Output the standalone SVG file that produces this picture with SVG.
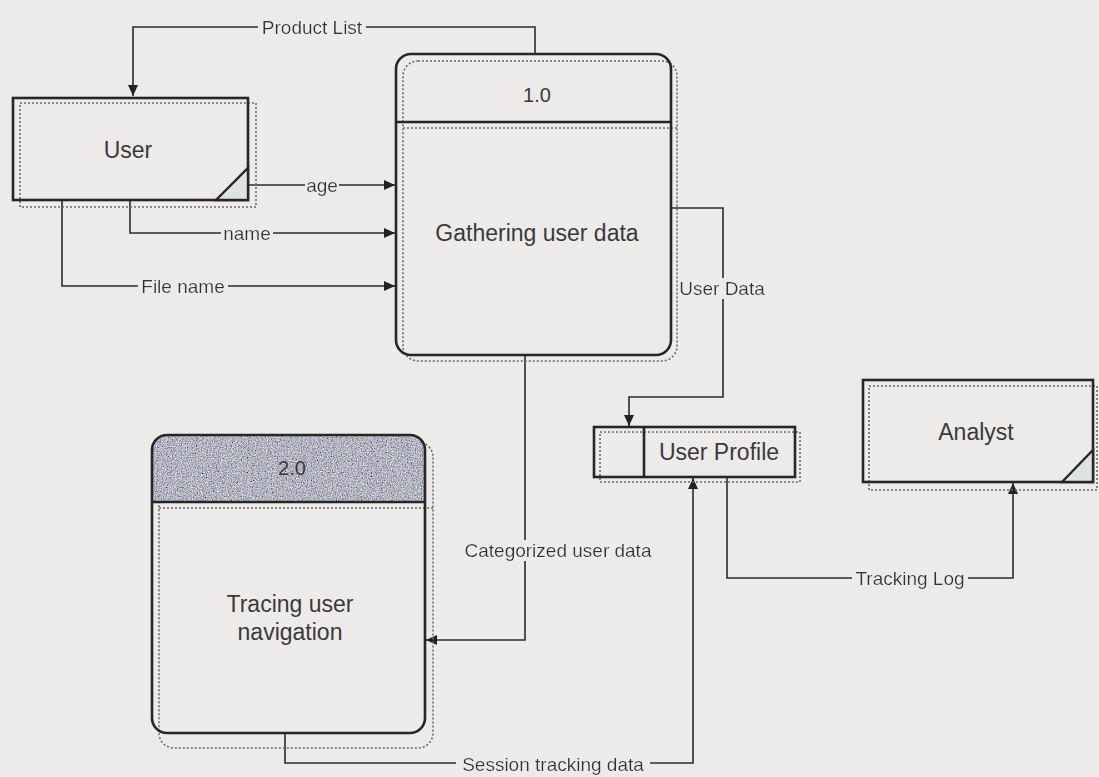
<svg xmlns="http://www.w3.org/2000/svg" width="1099" height="777" viewBox="0 0 1099 777">
<defs>
<style>
.bg{fill:#edebea}
.box{fill:none;stroke:#262626;stroke-width:2.6}
.shadow{fill:none;stroke:#6a6a70;stroke-width:1.6;stroke-dasharray:2 2}
.ln{fill:none;stroke:#2c2c2c;stroke-width:1.6}
.nt{font-family:"Liberation Sans",Arial,sans-serif;font-size:23px;fill:#3a3a3a;text-anchor:middle}
.el{font-family:"Liberation Sans",Arial,sans-serif;font-size:19px;fill:#333;text-anchor:middle;filter:url(#tbg)}
</style>
<filter id="tbg" x="-0.03" y="0" width="1.06" height="1">
<feFlood flood-color="#edebea" result="f"/>
<feComposite in="SourceGraphic" in2="f" operator="over"/>
</filter>
<marker id="arr" markerWidth="12" markerHeight="10" refX="11" refY="5" orient="auto" markerUnits="userSpaceOnUse">
<path d="M0,0 L11,5 L0,10 z" fill="#222"/>
</marker>
<filter id="noise" x="0" y="0" width="100%" height="100%">
<feTurbulence type="fractalNoise" baseFrequency="0.8" numOctaves="2" seed="7" result="t"/>
<feColorMatrix in="t" type="matrix" values="0.9 0.8 0 0 -0.4  0 1.3 0.3 0 -0.34  0.5 0.7 0.7 0 -0.43  0 0 0 0 1" result="c"/>
<feComposite in="c" in2="SourceGraphic" operator="in"/>
</filter>
</defs>
<rect class="bg" x="0" y="0" width="1099" height="777"/>

<g id="connectors">
<path class="ln" d="M535,55 V27 H133 V96" marker-end="url(#arr)"/>
<text class="el" x="312" y="34">Product List</text>
<path class="ln" d="M248,185 H395" marker-end="url(#arr)"/>
<text class="el" x="322" y="192">age</text>
<path class="ln" d="M130,200 V233 H395" marker-end="url(#arr)"/>
<text class="el" x="247" y="240">name</text>
<path class="ln" d="M62,200 V286 H395" marker-end="url(#arr)"/>
<text class="el" x="183" y="293">File name</text>
<path class="ln" d="M671,208 H723 V397 H629 V426" marker-end="url(#arr)"/>
<text class="el" x="722" y="295">User Data</text>
<path class="ln" d="M525,355 V640 H426" marker-end="url(#arr)"/>
<text class="el" x="558" y="557">Categorized user data</text>
<path class="ln" d="M285,733 V763 H693 V478" marker-end="url(#arr)"/>
<text class="el" x="553" y="771">Session tracking data</text>
<path class="ln" d="M727,477 V578 H1013 V483" marker-end="url(#arr)"/>
<text class="el" x="910" y="585">Tracking Log</text>
</g>

<g id="user">
<rect class="shadow" x="20" y="103" width="236" height="104"/>
<rect class="box" x="13" y="98" width="235" height="102"/>
<path d="M216,200 L248,168 V200 Z" fill="#dfe3df" stroke="#262626" stroke-width="2.4"/>
<text class="nt" x="128" y="158">User</text>
</g>

<g id="process1">
<rect class="shadow" x="403" y="61" width="274" height="300" rx="15"/>
<line class="shadow" x1="403" y1="128" x2="677" y2="128"/>
<rect class="box" x="396" y="54" width="275" height="301" rx="15"/>
<line class="box" x1="396" y1="122" x2="671" y2="122"/>
<text class="nt" x="537" y="102" style="font-size:20px">1.0</text>
<text class="nt" x="537" y="241">Gathering user data</text>
</g>

<g id="process2">
<rect class="shadow" x="159" y="442" width="274" height="306" rx="15"/>
<path d="M152,502 V450 Q152,435 167,435 H410 Q425,435 425,450 V502 Z" fill="#888" filter="url(#noise)"/>
<line class="shadow" x1="159" y1="508" x2="433" y2="508"/>
<rect class="box" x="152" y="435" width="273" height="298" rx="15"/>
<line class="box" x1="152" y1="502" x2="425" y2="502"/>
<text class="nt" x="292" y="475" style="font-size:20px">2.0</text>
<text class="nt" x="290" y="612">Tracing user</text>
<text class="nt" x="290" y="640">navigation</text>
</g>

<g id="userprofile">
<rect class="shadow" x="600" y="432" width="200" height="50"/>
<rect class="box" x="594" y="427" width="201" height="50"/>
<line class="box" x1="644" y1="427" x2="644" y2="477"/>
<text class="nt" x="719" y="460">User Profile</text>
</g>

<g id="analyst">
<rect class="shadow" x="869" y="386" width="228" height="104"/>
<rect class="box" x="863" y="380" width="230" height="102"/>
<path d="M1062,482 L1093,450 V482 Z" fill="#dfe3df" stroke="#262626" stroke-width="2.4"/>
<text class="nt" x="976" y="440">Analyst</text>
</g>
</svg>
